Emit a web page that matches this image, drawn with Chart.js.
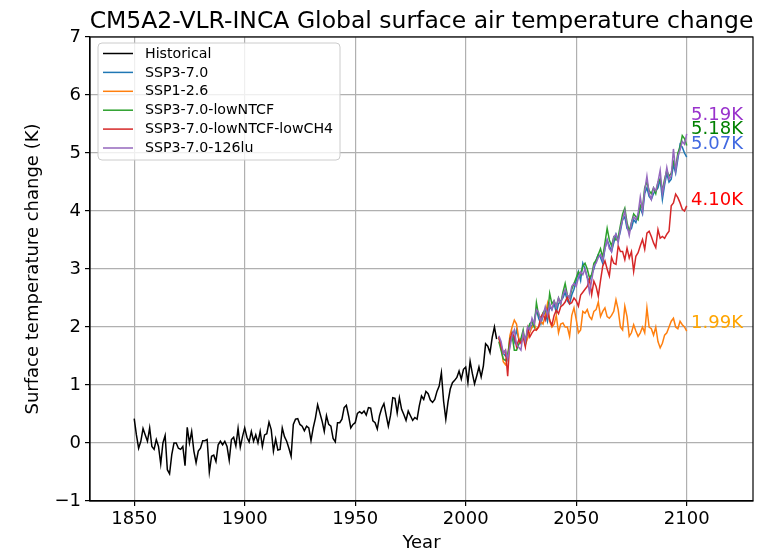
<!DOCTYPE html>
<html>
<head>
<meta charset="utf-8">
<script src="https://cdn.jsdelivr.net/npm/chart.js@4.4.1/dist/chart.umd.min.js"></script>
<style>
html,body{margin:0;padding:0;background:#ffffff;}
#box{width:773px;height:552px;position:relative;}
</style>
</head>
<body>
<div id="box"><canvas id="chart" width="773" height="552"></canvas></div>
<script>
// ---------- DATA ----------
const histStartYear = 1850;
const historical = [
  0.42, 0.14, -0.09, 0.03, 0.25, 0.14, 0.03, 0.26, -0.06, -0.11,
  0.06, -0.06, -0.36, 0.0, 0.13, -0.46, -0.53, -0.2, 0.0, 0.0,
  -0.09, -0.11, -0.06, -0.39, 0.27, 0.0, 0.2, -0.14, -0.34, -0.14,
  -0.09, 0.04, 0.04, 0.06, -0.5, -0.23, -0.21, -0.32, -0.03, 0.03,
  -0.03, 0.03, -0.06, -0.3, 0.06, 0.1, -0.05, 0.25, -0.07, 0.11,
  0.26, 0.1, 0.02, 0.2, 0.03, 0.14, 0.0, 0.2, -0.06, 0.14,
  0.16, 0.36, 0.23, -0.14, 0.07, -0.12, -0.11, 0.26, 0.11, 0.03,
  -0.09, -0.23, 0.32, 0.41, 0.42, 0.32, 0.29, 0.21, 0.29, 0.26,
  0.04, 0.26, 0.43, 0.66, 0.52, 0.38, 0.2, 0.47, 0.32, 0.29,
  0.08, 0.02, 0.35, 0.35, 0.41, 0.61, 0.65, 0.47, 0.26, 0.32,
  0.35, 0.51, 0.54, 0.51, 0.55, 0.48, 0.61, 0.6, 0.38, 0.35,
  0.24, 0.47, 0.6, 0.68, 0.48, 0.29, 0.48, 0.78, 0.77, 0.52,
  0.78, 0.58, 0.49, 0.39, 0.55, 0.47, 0.39, 0.44, 0.41, 0.64,
  0.81, 0.75, 0.89, 0.85, 0.74, 0.7, 0.75, 0.89, 0.98, 1.21,
  0.72, 0.41, 0.71, 0.93, 1.04, 1.08, 1.13, 1.24, 1.1, 1.27,
  1.31, 1.04, 1.41, 1.2, 1.02, 1.16, 1.31, 1.14, 1.33, 1.71,
  1.67, 1.56, 1.82, 2.0, 1.79
];

const scenStartYear = 2015;
const ssp370 = [
  1.8, 1.7, 1.55, 1.5, 1.5, 1.7, 1.9, 1.75, 1.95, 1.8,
  1.75, 1.85, 1.8, 1.9, 2.05, 2.0, 2.1, 2.3, 2.15, 2.05,
  2.2, 2.25, 2.1, 2.35, 2.3, 2.4, 2.25, 2.4, 2.45, 2.5,
  2.6, 2.45, 2.4, 2.55, 2.65, 2.8, 2.95, 2.8, 3.1, 3.0,
  2.85, 2.8, 2.9, 3.0, 3.15, 3.25, 3.2, 3.1, 3.35, 3.5,
  3.4, 3.3, 3.45, 3.6, 3.5, 3.65, 3.85, 3.9, 3.7, 3.65,
  3.7, 3.85, 3.8, 3.95, 4.05, 3.95, 4.3, 4.4, 4.25, 4.2,
  4.3, 4.35, 4.4, 4.55, 4.2, 4.45, 4.65, 4.5, 4.55, 4.8,
  4.65, 4.9, 5.15, 5.1, 5.0, 4.93
];
const ssp126 = [
  1.83, 1.66, 1.4, 1.35, 1.45, 1.85, 2.0, 2.12, 2.05, 1.8,
  1.75, 1.9, 1.7, 1.8, 1.9, 2.0, 2.05, 1.95, 2.0, 2.1,
  2.05, 2.2, 2.4, 2.1, 2.0, 2.05, 2.2, 1.9, 2.05, 2.07,
  2.0, 2.0, 1.84, 2.2, 2.33, 2.13, 1.9, 1.95, 2.27, 2.24,
  2.3, 2.18, 2.13, 2.27, 2.3, 2.43, 2.18, 2.27, 2.33, 2.18,
  2.15, 2.2, 2.27, 2.47, 2.3, 2.0, 1.95, 2.36, 2.18, 1.84,
  1.9, 2.04, 1.93, 1.84, 1.9, 2.0, 1.9, 2.33, 2.0, 1.97,
  1.86, 2.0, 1.75, 1.64, 1.72, 1.86, 1.9, 2.0, 2.1, 2.15,
  2.0, 1.97, 2.1, 2.04, 2.0, 1.93
];
const ssp370LowNTCF = [
  1.75, 1.6, 1.45, 1.42, 1.5, 1.8, 1.85, 1.6, 1.6, 1.7,
  1.8, 1.95, 1.7, 1.95, 2.05, 2.1, 2.0, 2.42, 2.2, 2.15,
  2.25, 2.3, 2.2, 2.58, 2.4, 2.45, 2.35, 2.5, 2.4, 2.6,
  2.75, 2.55, 2.5, 2.65, 2.75, 2.85, 2.95, 2.9, 3.05, 3.1,
  3.0, 2.85, 2.9, 3.1, 3.15, 3.25, 3.35, 3.2, 3.45, 3.7,
  3.5, 3.4, 3.55, 3.5, 3.55, 3.75, 3.95, 4.05, 3.8, 3.65,
  3.8, 3.95, 3.9, 3.85, 4.1, 4.05, 4.4, 4.5, 4.35, 4.3,
  4.4, 4.3, 4.5, 4.55, 4.35, 4.55, 4.7, 4.6, 4.65, 4.85,
  4.75, 5.0, 5.1, 5.3, 5.25, 5.13
];
const ssp370LowNTCFLowCH4 = [
  1.83, 1.66, 1.55, 1.6, 1.15, 1.78, 1.9, 1.83, 1.66, 1.78,
  1.72, 1.83, 1.66, 1.98, 1.83, 1.9, 1.95, 1.95, 2.0, 2.17,
  2.23, 2.12, 2.29, 2.12, 2.03, 2.2, 2.29, 2.23, 2.35, 2.38,
  2.43, 2.52, 2.4, 2.42, 2.5, 2.45, 2.36, 2.55, 2.6, 2.65,
  2.7, 2.82, 2.56, 2.79, 2.7, 2.53, 2.8, 3.05, 3.14, 3.0,
  2.88, 3.2, 3.1, 3.08, 3.4, 3.3, 3.3, 3.16, 3.36, 3.19,
  3.3, 2.96, 3.22, 3.28, 3.4, 3.51, 3.34, 3.62, 3.65, 3.56,
  3.45, 3.37, 3.68, 3.53, 3.56, 3.53, 3.6, 3.65, 4.09, 4.14,
  4.29, 4.23, 4.14, 4.03, 4.0, 4.09
];
const ssp370126lu = [
  1.85, 1.75, 1.55, 1.6, 1.45, 1.65, 1.85, 1.95, 1.7, 1.65,
  1.6, 1.9, 1.75, 2.0, 1.95, 2.15, 2.05, 2.3, 2.25, 2.1,
  2.2, 2.35, 2.2, 2.4, 2.3, 2.45, 2.35, 2.5, 2.4, 2.55,
  2.65, 2.55, 2.5, 2.7, 2.75, 2.7, 2.85, 2.95, 2.9, 3.0,
  2.85, 2.6, 2.8, 3.05, 3.1, 3.2, 3.25, 3.15, 3.35, 3.5,
  3.35, 3.3, 3.55, 3.6, 3.45, 3.7, 3.85, 4.0, 3.75, 3.58,
  3.8, 3.9, 3.85, 3.95, 4.24, 4.0, 4.35, 4.6, 4.3, 4.2,
  4.4, 4.35, 4.5, 4.7, 4.3, 4.5, 4.75, 4.55, 4.6, 5.07,
  4.7, 4.95, 5.05, 5.2, 5.15, 5.33
];

const seriesNames = ['Historical', 'SSP3-7.0', 'SSP1-2.6', 'SSP3-7.0-lowNTCF', 'SSP3-7.0-lowNTCF-lowCH4', 'SSP3-7.0-126lu'];
const endLabelTexts = ['5.19K', '5.18K', '5.07K', '4.10K', '1.99K'];
const xTickValues = [1850, 1900, 1950, 2000, 2050, 2100];
const yTickValues = [-1, 0, 1, 2, 3, 4, 5, 6, 7];

// ---------- STYLE ----------
const FONT = '"DejaVu Sans", "Liberation Sans", sans-serif';
const lineColors = ['#000000', '#1f77b4', '#ff7f0e', '#2ca02c', '#d62728', '#9467bd'];
const endLabelColors = ['#9932cc', '#008000', '#4169e1', '#ff0000', '#ffa500'];
const endLabelX = 2102;
const endLabelY = [5.65, 5.4, 5.15, 4.18, 2.06];

function toPoints(start, vals) { return vals.map((v, i) => ({ x: start + i, y: v })); }

const seriesValues = [historical, ssp370, ssp126, ssp370LowNTCF, ssp370LowNTCFLowCH4, ssp370126lu];
const seriesStarts = [histStartYear, scenStartYear, scenStartYear, scenStartYear, scenStartYear, scenStartYear];

const datasets = seriesValues.map((vals, i) => ({
  label: seriesNames[i],
  data: toPoints(seriesStarts[i], vals),
  borderColor: lineColors[i],
  backgroundColor: lineColors[i],
  borderWidth: 1.5,
  pointRadius: 0,
  tension: 0,
  fill: false,
  order: 6 - i
}));

const titlePlugin = {
  id: 'mplTitle',
  afterDraw(chart) {
    const { ctx, chartArea: a } = chart;
    ctx.save();
    ctx.fillStyle = '#000';
    ctx.font = '23.5px ' + FONT;
    ctx.textAlign = 'center';
    ctx.textBaseline = 'alphabetic';
    ctx.fillText('CM5A2-VLR-INCA Global surface air temperature change', (a.left + a.right) / 2, 28);
    ctx.restore();
  }
};

const boxPlugin = {
  id: 'axesBox',
  afterDraw(chart) {
    const { ctx, chartArea: a } = chart;
    ctx.save();
    ctx.strokeStyle = '#000';
    ctx.lineWidth = 1.2;
    ctx.strokeRect(a.left, a.top, a.right - a.left, a.bottom - a.top);
    ctx.restore();
  }
};

const legendPlugin = {
  id: 'mplLegend',
  afterDatasetsDraw(chart) {
    const ctx = chart.ctx;
    const a = chart.chartArea;
    const x = a.left + 8, y = a.top + 6, w = 242, h = 117;
    ctx.save();
    ctx.beginPath();
    ctx.roundRect(x, y, w, h, 4);
    ctx.fillStyle = 'rgba(255,255,255,0.8)';
    ctx.fill();
    ctx.strokeStyle = '#cccccc';
    ctx.lineWidth = 1;
    ctx.stroke();
    ctx.font = '14.2px ' + FONT;
    ctx.textBaseline = 'middle';
    ctx.textAlign = 'left';
    chart.data.datasets.forEach((ds, i) => {
      const ry = y + 10.5 + i * 18.9;
      ctx.strokeStyle = ds.borderColor;
      ctx.lineWidth = 1.5;
      ctx.beginPath();
      ctx.moveTo(x + 5, ry);
      ctx.lineTo(x + 35, ry);
      ctx.stroke();
      ctx.fillStyle = '#000';
      ctx.fillText(ds.label, x + 47, ry + 0.5);
    });
    ctx.restore();
  }
};

const endLabelPlugin = {
  id: 'endLabels',
  afterDatasetsDraw(chart) {
    const { ctx, scales } = chart;
    ctx.save();
    ctx.font = '18px ' + FONT;
    ctx.textAlign = 'left';
    ctx.textBaseline = 'middle';
    endLabelTexts.forEach((t, i) => {
      ctx.fillStyle = endLabelColors[i];
      ctx.fillText(t, scales.x.getPixelForValue(endLabelX), scales.y.getPixelForValue(endLabelY[i]));
    });
    ctx.restore();
  }
};

new Chart(document.getElementById('chart'), {
  type: 'line',
  data: { datasets },
  plugins: [legendPlugin, endLabelPlugin, boxPlugin, titlePlugin],
  options: {
    responsive: false,
    animation: false,
    events: [],
    layout: { padding: { top: 37, right: 20, left: 0, bottom: 0 } },
    plugins: { legend: { display: false }, tooltip: { enabled: false }, title: { display: false } },
    scales: {
      x: {
        type: 'linear',
        min: 1830,
        max: 2130,
        afterBuildTicks: s => { s.ticks = xTickValues.map(v => ({ value: v })); },
        afterFit: s => { s.height = 51; },
        grid: { color: '#b0b0b0', lineWidth: 1.2, tickColor: '#000', tickLength: 5, tickWidth: 1.2 },
        border: { display: true, color: '#000', width: 1.2 },
        ticks: {
          font: { family: FONT, size: 18 }, color: '#000', padding: 3, maxRotation: 0, autoSkip: false,
          callback: v => String(v)
        },
        title: { display: true, text: 'Year', color: '#000', font: { family: FONT, size: 18, lineHeight: 1 }, padding: { top: 0, bottom: 0 } }
      },
      y: {
        type: 'linear',
        min: -1,
        max: 7,
        afterBuildTicks: s => { s.ticks = yTickValues.map(v => ({ value: v })); },
        afterFit: s => { s.width = 90; },
        grid: { color: '#b0b0b0', lineWidth: 1.2, tickColor: '#000', tickLength: 5, tickWidth: 1.2 },
        border: { display: true, color: '#000', width: 1.2 },
        ticks: {
          font: { family: FONT, size: 18 }, color: '#000', padding: 4, autoSkip: false,
          callback: v => (v < 0 ? '\u2212' + Math.abs(v) : String(v))
        },
        title: { display: true, text: 'Surface temperature change (K)', color: '#000', font: { family: FONT, size: 18, lineHeight: 1 }, padding: { top: 24, bottom: 0 } }
      }
    }
  }
});
</script>
</body>
</html>
